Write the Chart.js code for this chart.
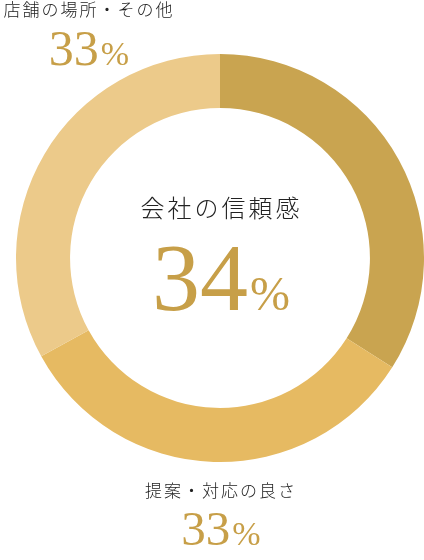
<!DOCTYPE html>
<html>
<head>
<meta charset="utf-8">
<script src="https://cdn.jsdelivr.net/npm/chart.js@4.4.1/dist/chart.umd.min.js"></script>
<style>
    html, body { margin: 0; padding: 0; background: #fff; }
    canvas { display: block; }
</style>
</head>
<body>
<canvas id="chart" width="424" height="560"></canvas>
<script>
// data
const categories = ['会社の信頼感', '提案・対応の良さ', '店舗の場所・その他'];
const values = [34, 33, 33];
const colors = ['#C9A450', '#E6BA62', '#ECCA8A'];

const jpFont = '"Noto Sans CJK JP", "Noto Sans", sans-serif';
const numFont = '"Liberation Serif", "DejaVu Serif", serif';
const gold = '#C79F48';
const ink = '#222';

// where each label sits (index -> spot), center one goes in the hole
const spots = [
    { x: 220, titleY: 208, titleSize: 24, titleGap: 3, baseY: 310, num: 96, pct: 48 },
    { x: 220, titleY: 491, titleSize: 17, titleGap: 2, baseY: 545, num: 49, pct: 34 },
    { x: 88, titleY: 10, titleSize: 17, titleGap: 2, baseY: 65, num: 50, pct: 34 }
];

const drawTitle = (ctx, text, x, y, size, gap) => {
    ctx.font = `300 ${size}px ${jpFont}`;
    ctx.letterSpacing = gap + 'px';
    ctx.fillStyle = ink;
    ctx.textBaseline = 'middle';
    ctx.textAlign = 'left';
    const w = ctx.measureText(text).width - gap;
    ctx.fillText(text, x - w / 2, y);
    ctx.letterSpacing = '0px';
};

const drawValue = (ctx, value, x, y, numSize, pctSize) => {
    ctx.textBaseline = 'alphabetic';
    ctx.textAlign = 'left';
    ctx.fillStyle = gold;
    ctx.font = `${numSize}px ${numFont}`;
    const numW = ctx.measureText(String(value)).width;
    ctx.font = `${pctSize}px ${numFont}`;
    const pctW = ctx.measureText('%').width;
    const left = x - (numW + pctW) / 2;
    ctx.font = `${numSize}px ${numFont}`;
    ctx.fillText(String(value), left, y);
    ctx.font = `${pctSize}px ${numFont}`;
    ctx.fillText('%', left + numW + 2, y);
};

const labelPlugin = {
    id: 'labels',
    afterDraw(chart) {
        const ctx = chart.ctx;
        ctx.save();
        for (let idx = 0; idx < categories.length; ++idx) {
            const s = spots[idx];
            drawTitle(ctx, categories[idx], s.x, s.titleY, s.titleSize, s.titleGap);
            drawValue(ctx, values[idx], s.x, s.baseY, s.num, s.pct);
        }
        ctx.restore();
    }
};

new Chart(document.getElementById('chart'), {
    type: 'doughnut',
    data: {
        labels: categories,
        datasets: [{
            data: values,
            backgroundColor: colors,
            borderWidth: 0
        }]
    },
    options: {
        responsive: false,
        animation: false,
        events: [],
        cutout: '73.5%',
        layout: {
            padding: { left: 16, right: 0, top: 54, bottom: 98 }
        },
        plugins: {
            legend: { display: false },
            tooltip: { enabled: false }
        }
    },
    plugins: [labelPlugin]
});
</script>
</body>
</html>
